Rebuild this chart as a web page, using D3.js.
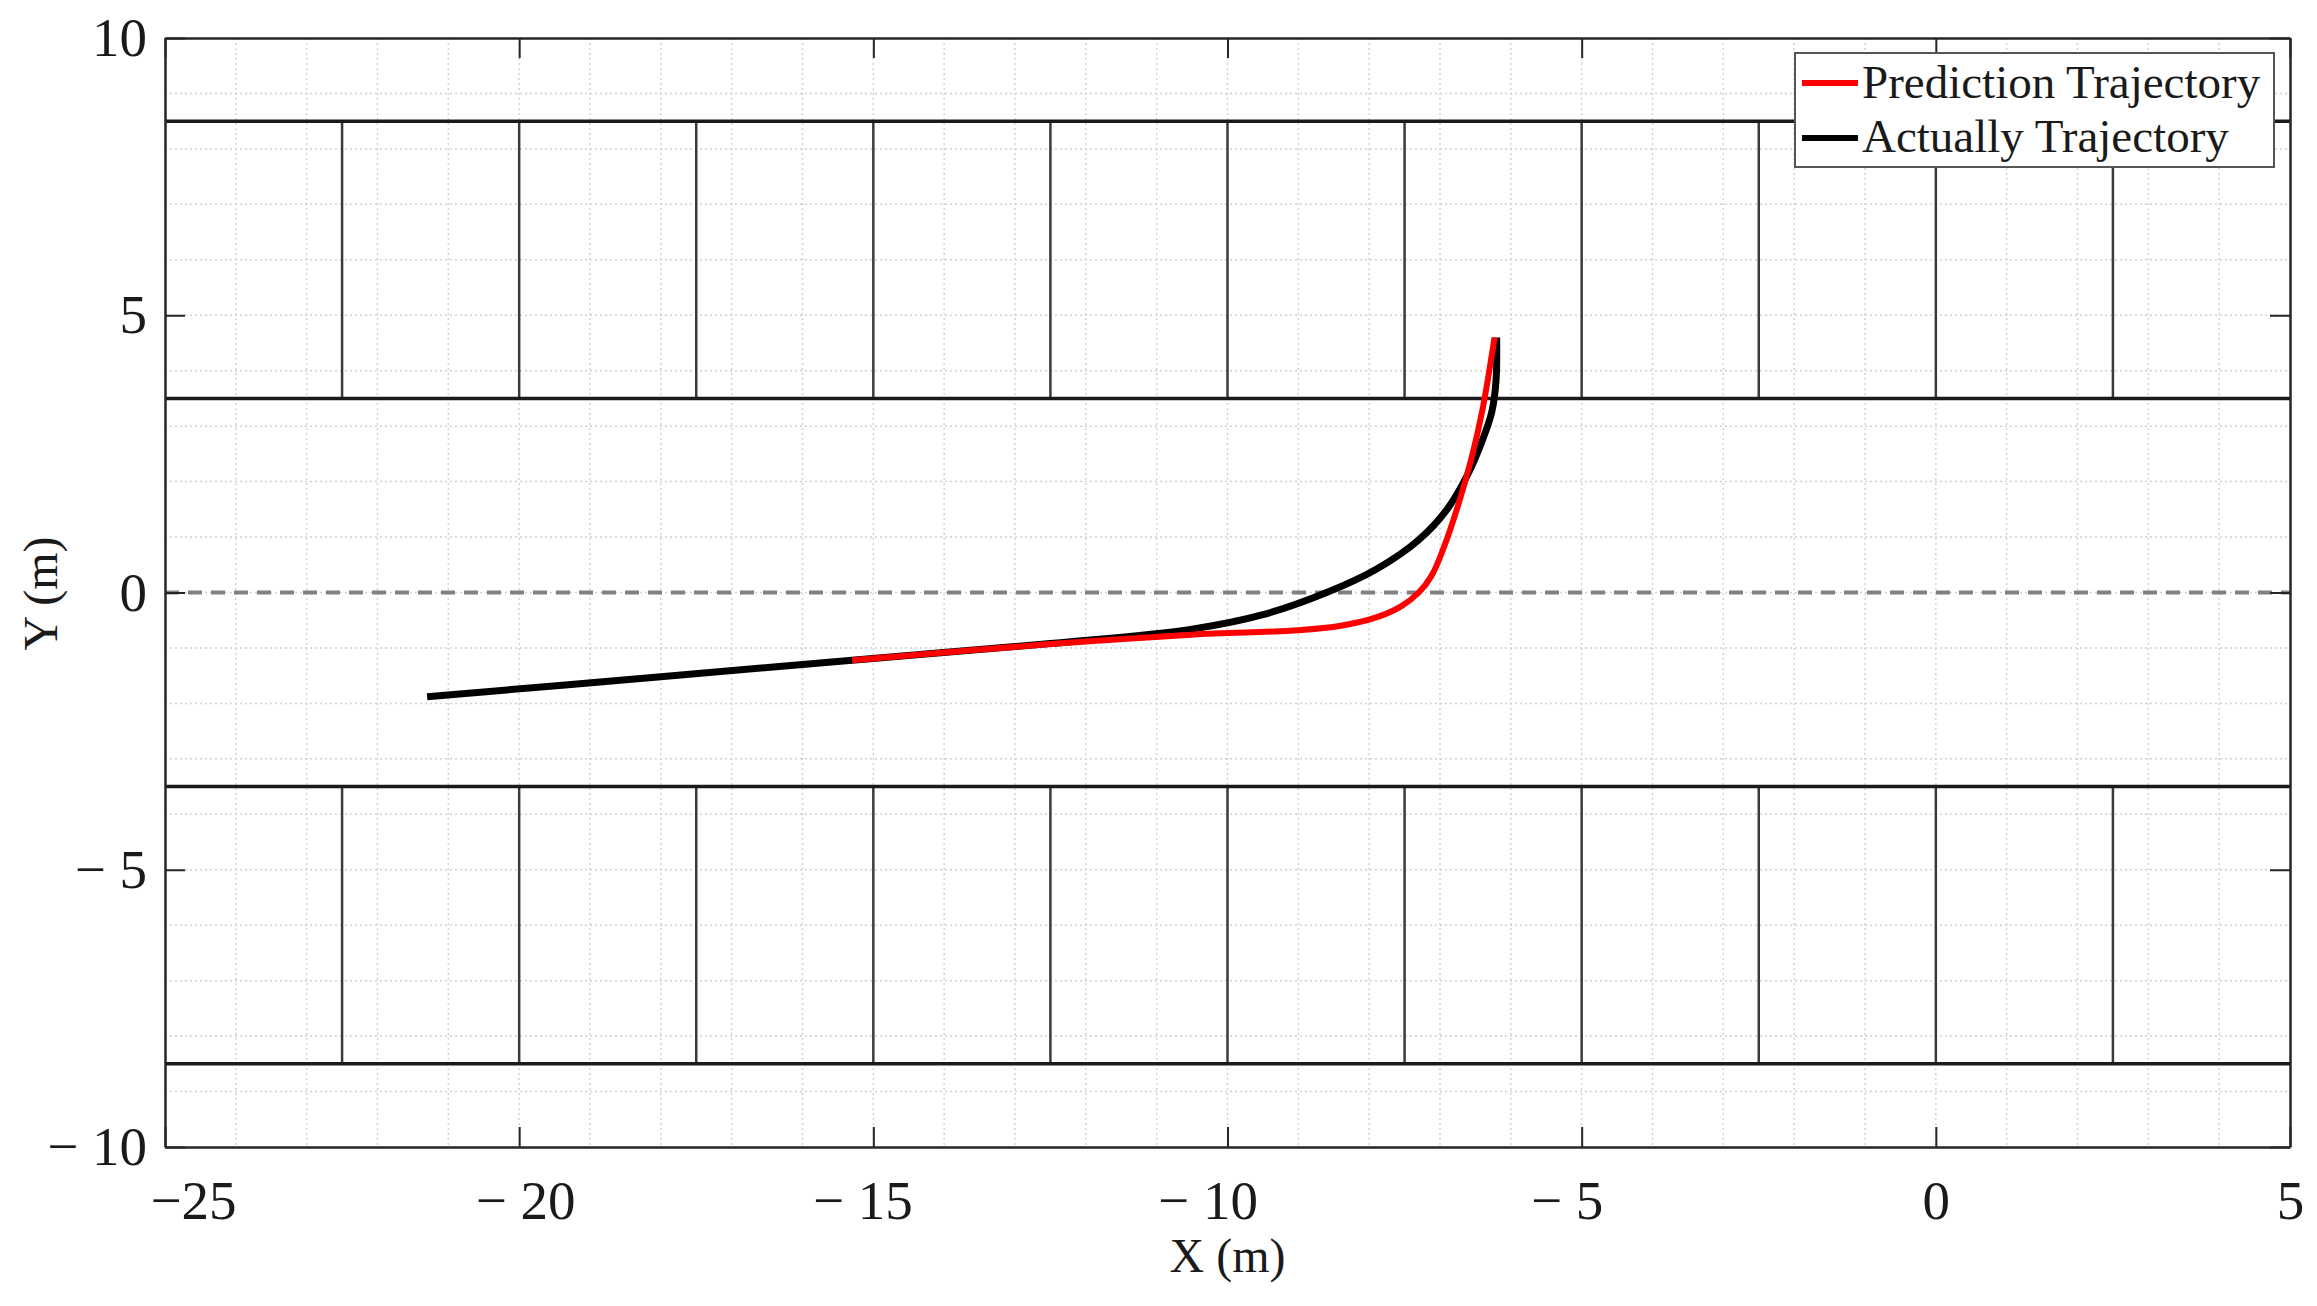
<!DOCTYPE html>
<html>
<head>
<meta charset="utf-8">
<script src="https://cdn.jsdelivr.net/npm/d3@7"></script>
<style>
  body { margin: 0; background: #fff; }
  text { font-family: "Liberation Serif", "Times New Roman", serif; fill: #1a1a1a; }
</style>
</head>
<body>
<div id="chart"></div>
<script>
// axis ticks and labels
var xTicks = [-25, -20, -15, -10, -5, 0, 5];
var xTickLabels = ["\u221225", "\u2212 20", "\u2212 15", "\u2212 10", "\u2212 5", "0", "5"];
var yTicks = [10, 5, 0, -5, -10];
var yTickLabels = ["10", "5", "0", "\u2212 5", "\u2212 10"];

// parking layout
var laneLinesY = [8.5, 3.5, -3.5, -8.5];
var stallLinesX = [-22.5, -20, -17.5, -15, -12.5, -10, -7.5, -5, -2.5, 0, 2.5];
var stallRows = [[3.5, 8.5], [-8.5, -3.5]];

// actual trajectory
var actualX = [-21.3, -18, -15.3, -12.5, -10.5, -9.5, -8.6, -7.9, -7.3, -6.9, -6.6, -6.4, -6.27, -6.21, -6.2];
var actualY = [-1.88, -1.52, -1.22, -0.92, -0.66, -0.40, 0.0, 0.42, 0.95, 1.5, 2.15, 2.75, 3.25, 3.8, 4.6];

// prediction trajectory
var predX = [-15.3, -12.5, -10.5, -9, -8.4, -7.9, -7.55, -7.3, -7.12, -6.95, -6.75, -6.55, -6.4, -6.23];
var predY = [-1.22, -0.93, -0.76, -0.68, -0.6, -0.45, -0.25, 0.0, 0.3, 0.8, 1.55, 2.45, 3.3, 4.6];

var legendNames = ["Prediction Trajectory", "Actually Trajectory"];
var legendColors = ["#ff0000", "#000000"];

// label nudges seen in the original figure
var xLabelShift = [28, 6, -11, -20, -15, 0, 0];

var svgWidth = 2317;
var svgHeight = 1306;
var margin = { top: 38, right: 27, bottom: 159, left: 165 };
var width = svgWidth - margin.left - margin.right;
var height = svgHeight - margin.top - margin.bottom;

var svg = d3.select("#chart")
  .append("svg")
  .attr("width", svgWidth)
  .attr("height", svgHeight);

var chartGroup = svg.append("g")
  .attr("transform", `translate(${margin.left}, ${margin.top})`);

var x = d3.scaleLinear().domain([-25, 5]).range([0, width]);
var y = d3.scaleLinear().domain([-10, 10]).range([height, 0]);

// dotted grid every metre
chartGroup.append("g").selectAll("line")
  .data(d3.range(-24, 5))
  .enter().append("line")
  .attr("x1", d => x(d)).attr("x2", d => x(d))
  .attr("y1", 0).attr("y2", height)
  .attr("stroke", "#d4d4d4")
  .attr("stroke-width", 1.5)
  .attr("stroke-dasharray", "2,3");

chartGroup.append("g").selectAll("line")
  .data(d3.range(-9, 10))
  .enter().append("line")
  .attr("x1", 0).attr("x2", width)
  .attr("y1", d => y(d)).attr("y2", d => y(d))
  .attr("stroke", "#d0d0d0")
  .attr("stroke-width", 1.5)
  .attr("stroke-dasharray", "2,3");

// centre dashed line
chartGroup.append("line")
  .attr("x1", 0).attr("x2", width)
  .attr("y1", y(0)).attr("y2", y(0))
  .attr("stroke", "#808080")
  .attr("stroke-width", 4)
  .attr("stroke-dasharray", "14,9");

// stall dividers
stallRows.forEach(function(row) {
  chartGroup.append("g").selectAll("line")
    .data(stallLinesX)
    .enter().append("line")
    .attr("x1", d => x(d)).attr("x2", d => x(d))
    .attr("y1", y(row[0])).attr("y2", y(row[1]))
    .attr("stroke", "#3a3a3a")
    .attr("stroke-width", 2.5);
});

// lane lines
chartGroup.append("g").selectAll("line")
  .data(laneLinesY)
  .enter().append("line")
  .attr("x1", 0).attr("x2", width)
  .attr("y1", d => y(d)).attr("y2", d => y(d))
  .attr("stroke", "#1a1a1a")
  .attr("stroke-width", 3.5);

// trajectories
var line = d3.line()
  .x(d => x(d[0]))
  .y(d => y(d[1]))
  .curve(d3.curveCatmullRom.alpha(0.5));

chartGroup.append("path")
  .datum(d3.zip(actualX, actualY))
  .attr("d", line)
  .attr("fill", "none")
  .attr("stroke", "#000")
  .attr("stroke-width", 7)
  .attr("stroke-linecap", "butt");

chartGroup.append("path")
  .datum(d3.zip(predX, predY))
  .attr("d", line)
  .attr("fill", "none")
  .attr("stroke", "#ff0000")
  .attr("stroke-width", 6)
  .attr("stroke-linecap", "butt");

// axes (ticks inside, box on)
var bottomAxis = d3.axisBottom(x).tickValues(xTicks)
  .tickSizeInner(-20).tickSizeOuter(0).tickPadding(33)
  .tickFormat((d, i) => xTickLabels[i]);
var topAxis = d3.axisTop(x).tickValues(xTicks)
  .tickSizeInner(-20).tickSizeOuter(0).tickFormat("");
var leftAxis = d3.axisLeft(y).tickValues(yTicks)
  .tickSizeInner(-20).tickSizeOuter(0).tickPadding(18)
  .tickFormat((d, i) => yTickLabels[i]);
var rightAxis = d3.axisRight(y).tickValues(yTicks)
  .tickSizeInner(-20).tickSizeOuter(0).tickFormat("");

var gx = chartGroup.append("g")
  .attr("transform", `translate(0, ${height})`)
  .call(bottomAxis);
gx.selectAll("text").attr("dx", (d, i) => xLabelShift[i]);

chartGroup.append("g").call(topAxis);

chartGroup.append("g").call(leftAxis);

chartGroup.append("g")
  .attr("transform", `translate(${width}, 0)`)
  .call(rightAxis);

chartGroup.selectAll(".domain")
  .attr("stroke", "#262626")
  .attr("stroke-width", 2.5);
chartGroup.selectAll(".tick line")
  .attr("stroke", "#262626")
  .attr("stroke-width", 2);
chartGroup.selectAll(".tick text")
  .attr("font-size", 55)
  .attr("font-family", "Liberation Serif, Times New Roman, serif")
  .attr("fill", "#1a1a1a");

// axis titles
chartGroup.append("text")
  .attr("x", width / 2)
  .attr("y", height + 125)
  .attr("text-anchor", "middle")
  .attr("font-size", 48)
  .text("X (m)");

chartGroup.append("text")
  .attr("transform", `translate(${57 - margin.left}, ${y(0) + 1}) rotate(-90)`)
  .attr("text-anchor", "middle")
  .attr("font-size", 48)
  .text("Y (m)");

// legend
var legend = chartGroup.append("g")
  .attr("transform", `translate(${width - 495}, 15)`);

legend.append("rect")
  .attr("width", 479)
  .attr("height", 114)
  .attr("fill", "#fff")
  .attr("stroke", "#555")
  .attr("stroke-width", 2);

legendNames.forEach(function(name, i) {
  legend.append("line")
    .attr("x1", 7).attr("x2", 63)
    .attr("y1", 30 + i * 55).attr("y2", 30 + i * 55)
    .attr("stroke", legendColors[i])
    .attr("stroke-width", 6);
  legend.append("text")
    .attr("x", 67)
    .attr("y", 45 + i * 54)
    .attr("font-size", 47)
    .text(name);
});
</script>
</body>
</html>
